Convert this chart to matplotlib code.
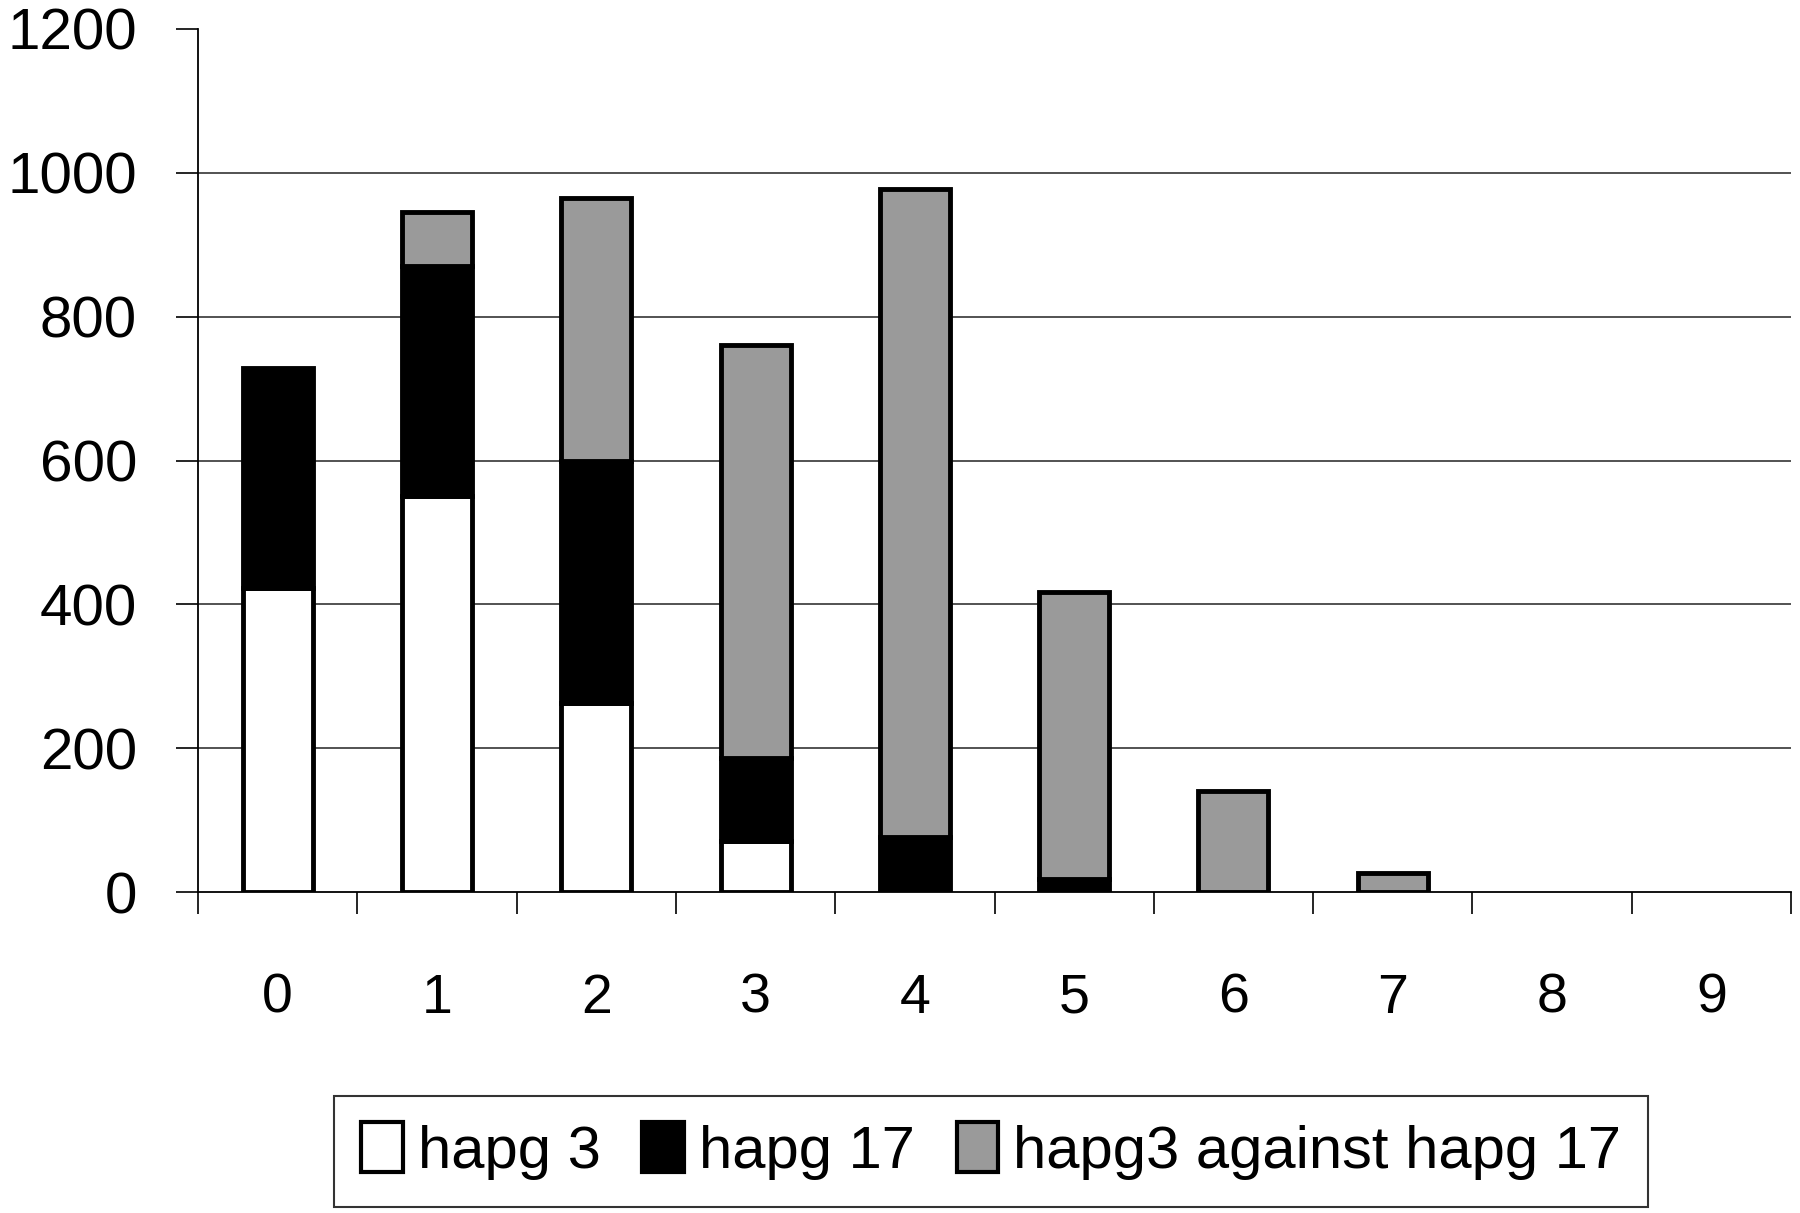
import numpy as np
import matplotlib
matplotlib.use("Agg")
import matplotlib.pyplot as plt

# categorias del eje x
categorias = ["0", "1", "2", "3", "4", "5", "6", "7", "8", "9"]

# valores
hapg3 = [423, 551, 263, 71, 0, 0, 0, 0, 0, 0]
hapg17 = [306, 320, 336, 116, 77, 18, 0, 0, 0, 0]
contra = [0, 75, 366, 574, 901, 399, 140, 27, 0, 0]

etiquetas = ["hapg 3", "hapg 17", "hapg3 against hapg 17"]
yticks = [0, 200, 400, 600, 800, 1000, 1200]

fuente = ["Liberation Sans", "DejaVu Sans"]

fig = plt.figure(figsize=(18, 12.13), dpi=100)
ax = fig.add_axes([0.11, 0.2646, 0.885, 0.7115])

x = np.arange(len(categorias))
ancho = 0.44
base2 = np.array(hapg3)
base3 = base2 + np.array(hapg17)


def grosor(valores):
    # sin borde para segmentos vacios
    return [3.5 if v > 0 else 0 for v in valores]


ax.bar(x, hapg3, ancho, color="white", edgecolor="black",
       linewidth=grosor(hapg3), label=etiquetas[0], zorder=3)
ax.bar(x, hapg17, ancho, bottom=base2, color="black", edgecolor="black",
       linewidth=grosor(hapg17), label=etiquetas[1], zorder=3)
ax.bar(x, contra, ancho, bottom=base3, color="#9a9a9a", edgecolor="black",
       linewidth=grosor(contra), label=etiquetas[2], zorder=3)

ax.set_xlim(-0.5, len(categorias) - 0.5)
ax.set_ylim(0, 1200)

# ejes y rejilla
ax.set_yticks(yticks)
ax.set_yticklabels([str(v) for v in yticks], fontsize=42, family=fuente)
ax.set_xticks(x)
ax.set_xticklabels(categorias, fontsize=40, family=fuente)
ax.set_xticks(np.arange(-0.5, len(categorias)), minor=True)
ax.tick_params(axis="x", which="major", length=0, pad=58)
ax.tick_params(axis="x", which="minor", length=16, width=1.2, direction="out")
ax.tick_params(axis="y", length=16, width=1.2, direction="out", pad=28)

for v in yticks[1:-1]:
    ax.axhline(v, color="#444444", linewidth=1.3, zorder=1)

ax.spines["top"].set_visible(False)
ax.spines["right"].set_visible(False)
ax.spines["left"].set_linewidth(1.3)
ax.spines["bottom"].set_linewidth(1.3)

ley = fig.legend(loc="center", bbox_to_anchor=(0.5506, 0.051), ncol=3,
                 frameon=True, fancybox=False, edgecolor="black",
                 prop={"family": fuente, "size": 43},
                 handlelength=0.7, handleheight=0.9, handletextpad=0.25,
                 columnspacing=0.7, borderpad=0.45)
ley.get_frame().set_linewidth(1.5)
for h in ley.legend_handles:
    h.set_linewidth(3)

fig.savefig("out.png", dpi=100)
